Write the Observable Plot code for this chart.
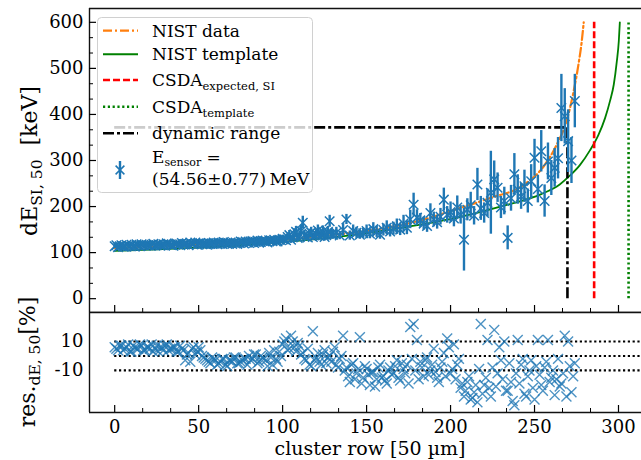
<!DOCTYPE html>
<html><head><meta charset="utf-8">
<script src="https://cdn.jsdelivr.net/npm/d3@7"></script>
<script src="https://cdn.jsdelivr.net/npm/@observablehq/plot@0.6"></script>
<style>
html,body{margin:0;padding:0;background:#fff;overflow:hidden}
#wrap{position:relative;width:641px;height:460px;overflow:hidden;font-family:"DejaVu Serif",serif}
.layer{position:absolute;left:0}
</style></head><body><div id="wrap"></div>
<script>
// ---- data ----
// even cluster rows: energy loss, its error and residual
const rowsEven = [0,2,4,6,8,10,12,14,16,18,20,22,24,26,28,30,32,34,36,38,40,42,44,46,48,50,52,54,56,58,60,62,64,66,68,70,72,74,76,78,80,82,84,86,88,90,92,94,96,98,100,102,104,106,108,110,112,114,116,118,120,122,124,126,128,130,132,134,136,138,140,142,144,146,148,150,152,154,156,158,160,162,164,166,168,170,172,174,176,178,180,182,184,186,188,190,192,194,196,198,200,202,204,206,208,210,212,214,216,218,220,222,224,226,228,230,232,234,236,238,240,242,244,246,248,250,252,254,256,258,260,262,264,266,268,270,272,274];
const dEEven = [114,112,116,113,115,117,113,116,118,115,
116,117,115,118,116,117,119,116,118,117,
121,118,116,119,122,120,118,119,121,119,
120,122,119,121,120,119,122,121,123,124,
121,125,123,122,126,124,127,125,124,128,
130,127,138,133,145,137,165,135,141,134,
140,136,146,138,168,139,143,137,149,172,
137,147,143,139,142,147,141,151,145,139,
149,154,146,152,157,150,163,154,172,204,
176,170,163,158,186,172,166,178,215,182,
188,174,198,182,128,193,203,180,248,196,
186,208,230,259,241,198,212,132,218,270,
237,222,244,212,255,306,238,320,212,298,
262,284,305,414,396,342,300,429];
const errEven = [5,4,5,4,5,5,4,5,5,4,
5,4,5,5,4,5,5,4,5,5,
6,5,5,6,5,6,5,5,6,5,
6,5,6,6,5,6,6,5,6,6,
6,7,6,6,7,6,7,6,7,7,
8,7,10,8,12,9,14,8,10,8,
10,9,12,9,13,10,12,9,14,11,
10,13,12,10,11,13,11,14,12,10,
13,15,12,14,16,13,18,15,20,25,
17,15,14,14,20,16,15,18,25,18,
22,18,25,20,68,24,28,20,35,26,
22,30,90,40,32,24,30,26,28,45,
32,28,35,26,36,40,30,45,35,40,
38,42,45,73,60,68,50,58];
const resEven = [6,4,7,5,8,3,6,5,7,4,6,8,5,3,6,7,4,5,6,3,5,
-3,2,5,1,6,
0,-2,-4,-1,-3,-5,-2,-6,-3,-4,-1,-5,-3,-2,
0,-2,1,-4,-1,-3,2,-6,-2,3,
8,12,5,10,3,7,
2,-3,-6,17,-1,-4,1,-5,0,3,-6,-2,
14,-8,-18,-5,-12,13,-15,-9,-20,-11,-16,-6,-14,-19,-8,
-12,-3,-17,-9,-6,20,22,11,-4,-14,-1,-10,
5,-15,-8,2,12,-12,8,-6,-22,
-28,-18,-30,-25,-32,22,-20,11,
-28,18,-12,-3,10,-24,-18,-34,11,-6,-26,-14,-3,-30,
11,-20,-8,11,-15,-27,-2,-19,14,10,-25,-5];
// odd cluster rows (energy loss shown up to row 129, residuals for all)
const rowsOdd = [1,3,5,7,9,11,13,15,17,19,21,23,25,27,29,31,33,35,37,39,41,43,45,47,49,51,53,55,57,59,61,63,65,67,69,71,73,75,77,79,81,83,85,87,89,91,93,95,97,99,101,103,105,107,109,111,113,115,117,119,121,123,125,127,129,131,133,135,137,139,141,143,145,147,149,151,153,155,157,159,161,163,165,167,169,171,173,175,177,179,181,183,185,187,189,191,193,195,197,199,201,203,205,207,209,211,213,215,217,219,221,223,225,227,229,231,233,235,237,239,241,243,245,247,249,251,253,255,257,259,261,263,265,267,269,271,273];
const dEOdd = [116,114,113,117,114,115,118,114,116,117,
115,119,116,115,118,120,117,115,119,118,
117,120,122,118,117,121,120,117,119,122,
118,120,123,119,122,121,119,124,120,122,
124,121,126,123,125,122,126,128,124,127,
129,134,128,140,132,147,138,133,144,137,
148,139,134,145,140];
const errOdd = [5,4,5,5,4,5,5,4,5,5,
5,5,4,5,5,5,5,4,5,6,
5,6,5,5,6,5,6,5,6,5,
6,6,5,6,6,6,5,6,6,7,
6,6,7,6,7,6,7,7,6,7,
7,9,8,12,9,13,10,8,11,9,
12,10,9,12,11];
const resOdd = [5,7,4,6,3,7,5,8,4,6,5,3,7,6,4,8,5,6,3,7,4,
1,-4,6,3,4,
-1,-3,-5,-2,-6,-4,-2,-7,-3,-1,-5,-4,-2,-6,
-3,1,-5,0,-2,-7,-1,4,-4,0,
10,4,14,6,9,1,
-2,5,-7,-3,2,-6,4,-1,-4,6,-8,0,
-10,-14,-6,-16,-9,-19,-7,-13,-11,-21,-8,-15,-17,-10,-13,
-7,-15,-5,-12,-19,-2,-10,-16,-8,-3,-13,-6,
-11,-18,-4,-14,6,-9,-16,-2,-19,
-24,-14,-29,-20,-9,-26,-15,-22,
-8,-21,6,-16,-24,-5,-31,-12,-19,-2,-28,-10,-22,-7,
-13,-24,-4,-18,-10,-16,-21,-12,-28,-7,-14];
const nistDataRow = [0,25,50,75,100,125,150,180,204,224,244,256,263,269,273,276,278,279.3];
const nistDataE   = [110,113,117,122,128,137,147,168,195,219,248,290,333,385,445,505,555,600];
const nistTplRow  = [0,25,50,75,100,130,164,204,234,254,265,271,277,283,288,292,295,297.2,299,300.2,300.8];
const nistTplE    = [104,107,111,116,123,133,150,176,204,227,248,267,290,322,355,392,430,465,515,560,600];
const csdaExpected = 285.5, csdaTemplate = 306, csdaTop = 600;
const dynRangeRow = 269.6, dynRangeE = 372;
const yTicksTop = [0,100,200,300,400,500,600];
const xTicks = [0,50,100,150,200,250,300];
const resTicks = [10,-10];
const resLines = [10,0,-10];

// ---- build ----
const blue = "#1f77b4", orange = "#ff7f0e", green = "#008000", red = "#ff0000";
const FONT = '"DejaVu Serif", serif';
const W = 641, xDom = [-15, 313.7];
const ePts = rowsEven.map((r, i) => ({row: r, e: dEEven[i], err: errEven[i]}))
  .concat(dEOdd.map((v, i) => ({row: rowsOdd[i], e: v, err: errOdd[i]})))
  .sort((a, b) => a.row - b.row);
const rPts = rowsEven.map((r, i) => ({row: r, res: resEven[i]}))
  .concat(rowsOdd.map((r, i) => ({row: r, res: resOdd[i]})))
  .sort((a, b) => a.row - b.row);
const nistData = nistDataRow.map((r, i) => ({row: r, e: nistDataE[i]}));
const nistTpl = nistTplRow.map((r, i) => ({row: r, e: nistTplE[i]}));
const xMinor = d3.range(0, 314, 50/3).filter(v => Math.abs(v/50 - Math.round(v/50)) > 1e-6);
const yMinor = d3.range(0, 630, 100/3).filter(v => Math.abs(v/100 - Math.round(v/100)) > 1e-6);
const fmt = d => String(d);

const topPlot = Plot.plot({
  width: W, height: 312,
  marginLeft: 89, marginRight: 0, marginTop: 8, marginBottom: 0,
  style: {fontFamily: FONT, fontSize: "18px", background: "transparent", color: "black"},
  x: {domain: xDom, axis: null},
  y: {domain: [-30, 630], axis: null},
  marks: [
    Plot.line(nistTpl, {x: "row", y: "e", stroke: green, strokeWidth: 1.8, curve: "monotone-x"}),
    Plot.line(nistData, {x: "row", y: "e", stroke: orange, strokeWidth: 2.2, strokeDasharray: "9,3,2,3", curve: "monotone-x"}),
    Plot.ruleX([csdaExpected], {y1: 0, y2: csdaTop, stroke: red, strokeWidth: 2.6, strokeDasharray: "7,3"}),
    Plot.ruleX([csdaTemplate], {y1: 0, y2: csdaTop, stroke: green, strokeWidth: 2.6, strokeDasharray: "2.2,2.6"}),
    Plot.ruleX([dynRangeRow], {y1: 0, y2: dynRangeE, stroke: "black", strokeWidth: 2.6, strokeDasharray: "11,3,3,3"}),
    Plot.ruleY([dynRangeE], {x1: 0, x2: dynRangeRow, stroke: "black", strokeWidth: 2.6, strokeDasharray: "11,3,3,3"}),
    Plot.ruleX(ePts, {x: "row", y1: d => d.e - d.err, y2: d => d.e + d.err, stroke: blue, strokeWidth: 2.4}),
    Plot.dot(ePts, {x: "row", y: "e", symbol: "times", r: 4.4, stroke: blue, strokeWidth: 1.5}),
    Plot.ruleX([xDom[0]], {stroke: "#111", strokeWidth: 1.4}),
    Plot.ruleY([630], {stroke: "#111", strokeWidth: 1.4}),
    Plot.ruleY([-30], {stroke: "#111", strokeWidth: 1.4}),
    Plot.tickX(xTicks, {insetTop: 297, strokeWidth: 1.2}),
    Plot.tickX(xMinor, {insetTop: 300, strokeWidth: 1}),
    Plot.tickY(yTicksTop, {insetRight: 545, strokeWidth: 1.2}),
    Plot.tickY(yMinor, {insetRight: 548, strokeWidth: 1}),
    Plot.axisY({ticks: yTicksTop, tickSize: 0, tickPadding: 6, fontSize: 18, fontFamily: FONT, label: null, tickFormat: fmt})
  ]
});

const botPlot = Plot.plot({
  width: W, height: 150,
  marginLeft: 89, marginRight: 0, marginTop: 2, marginBottom: 48,
  style: {fontFamily: FONT, fontSize: "18px", background: "transparent", color: "black"},
  x: {domain: xDom, axis: null},
  y: {domain: [-39, 30], axis: null},
  marks: [
    Plot.ruleY(resLines, {x1: 0, x2: xDom[1], stroke: "black", strokeWidth: 2.2, strokeDasharray: "2.2,2.6"}),
    Plot.dot(rPts, {x: "row", y: "res", symbol: "times", r: 4.6, stroke: blue, strokeOpacity: 0.8, strokeWidth: 1.4}),
    Plot.ruleX([xDom[0]], {stroke: "#111", strokeWidth: 1.4}),
    Plot.ruleY([30], {stroke: "#111", strokeWidth: 1.4}),
    Plot.ruleY([-39], {stroke: "#111", strokeWidth: 1.4}),
    Plot.tickX(xTicks, {insetTop: 93, strokeWidth: 1.2}),
    Plot.tickX(xMinor, {insetTop: 96, strokeWidth: 1}),
    Plot.axisX({ticks: xTicks, tickSize: 0, tickPadding: 8, fontSize: 18, fontFamily: FONT, label: null, tickFormat: fmt}),
    Plot.axisY({ticks: resTicks, tickSize: 0, tickPadding: 6, fontSize: 18, fontFamily: FONT, label: null, tickFormat: fmt})
  ]
});

const wrap = document.getElementById("wrap");
topPlot.classList.add("layer"); topPlot.style.top = "0px";
botPlot.classList.add("layer"); botPlot.style.top = "310px";
wrap.appendChild(topPlot);
wrap.appendChild(botPlot);

// ---- labels and legend overlay ----
const ov = d3.select(wrap).append("svg").attr("class", "layer").style("top", "0px")
  .attr("width", W).attr("height", 460).attr("font-family", FONT);

const yl = ov.append("text").attr("transform", "translate(37,161) rotate(-90)")
  .attr("text-anchor", "middle").attr("font-size", 22).attr("fill", "black");
yl.append("tspan").text("dE");
yl.append("tspan").attr("font-size", 15.5).attr("dy", 5).text("SI, 50");
yl.append("tspan").attr("dy", -5).text("\u00a0\u00a0[keV]");

const rl = ov.append("text").attr("transform", "translate(35,362) rotate(-90)")
  .attr("text-anchor", "middle").attr("font-size", 22).attr("fill", "black");
rl.append("tspan").text("res.");
rl.append("tspan").attr("font-size", 15.5).attr("dy", 5).text("dE, 50");
rl.append("tspan").attr("dy", -5).text("[%]");

ov.append("text").attr("x", 370).attr("y", 455).attr("text-anchor", "middle")
  .attr("font-size", 19).attr("fill", "black").text("cluster row [50 \u00b5m]");

// legend
const lg = ov.append("g");
lg.append("rect").attr("x", 97.5).attr("y", 17.5).attr("width", 215).attr("height", 175)
  .attr("rx", 4).attr("fill", "white").attr("fill-opacity", 0.8).attr("stroke", "#d0d0d0").attr("stroke-width", 1);
const entries = [
  {y: 30.7, stroke: orange, w: 2.2, dash: "9,3,2,3", label: ["NIST data"]},
  {y: 54.3, stroke: green, w: 2, dash: null, label: ["NIST template"]},
  {y: 80, stroke: red, w: 2.6, dash: "7,3", label: ["CSDA", "expected, SI"]},
  {y: 106.7, stroke: green, w: 2.6, dash: "2.2,2.6", label: ["CSDA", "template"]},
  {y: 133.3, stroke: "black", w: 2.6, dash: "11,3,3,3", label: ["dynamic range"]}
];
entries.forEach(e => {
  lg.append("line").attr("x1", 103).attr("x2", 138).attr("y1", e.y).attr("y2", e.y)
    .attr("stroke", e.stroke).attr("stroke-width", e.w).attr("stroke-dasharray", e.dash);
  const t = lg.append("text").attr("x", 152).attr("y", e.y + 6).attr("font-size", 17).attr("fill", "black");
  t.append("tspan").text(e.label[0]);
  if (e.label[1]) t.append("tspan").attr("font-size", 11.5).attr("dy", 4).text(e.label[1]);
});
// data entry: x marker with vertical error bar
lg.append("line").attr("x1", 120).attr("x2", 120).attr("y1", 161).attr("y2", 179).attr("stroke", blue).attr("stroke-width", 2.4);
lg.append("path").attr("d", "M115.6,165.6L124.4,174.4M115.6,174.4L124.4,165.6").attr("stroke", blue).attr("stroke-width", 1.5).attr("fill", "none");
const t6 = lg.append("text").attr("x", 152).attr("y", 163).attr("font-size", 17).attr("fill", "black");
t6.append("tspan").text("E");
t6.append("tspan").attr("font-size", 11).attr("dy", 3).text("sensor");
t6.append("tspan").attr("dy", -3).text(" =");
lg.append("text").attr("x", 152).attr("y", 185).attr("font-size", 17).attr("fill", "black")
  .text("(54.56\u00b10.77)\u2009MeV");
</script>
</body></html>
